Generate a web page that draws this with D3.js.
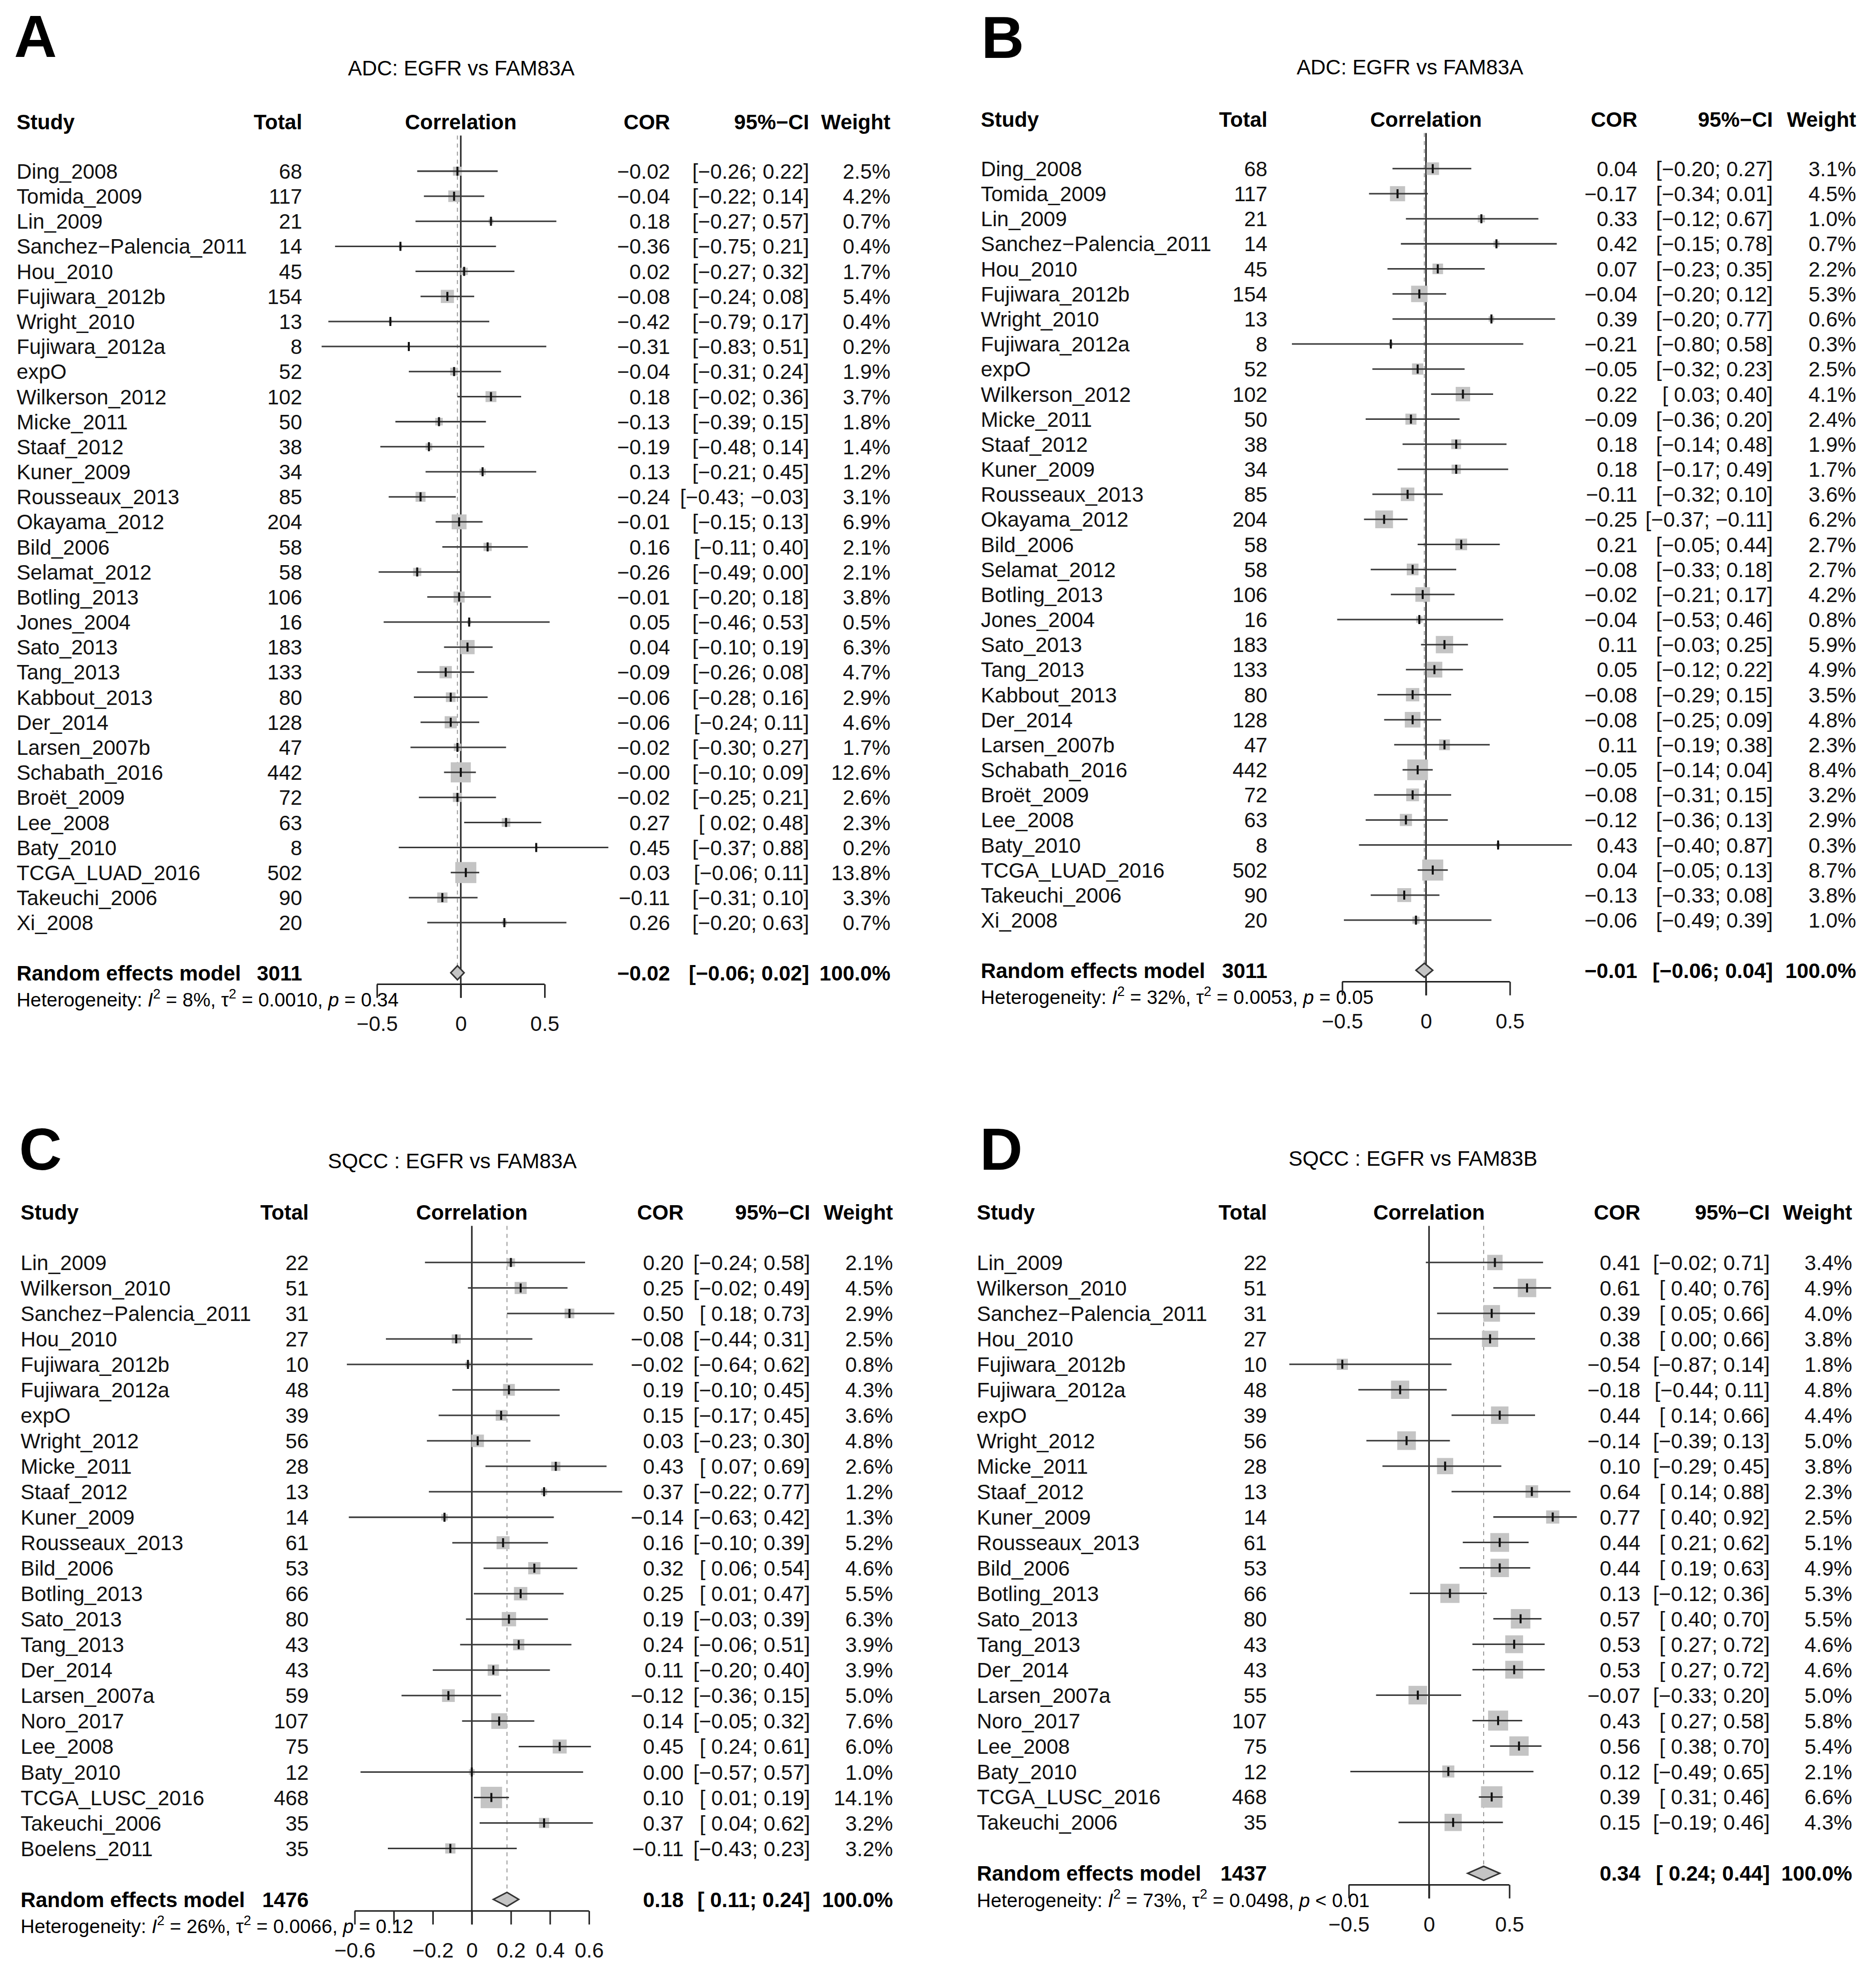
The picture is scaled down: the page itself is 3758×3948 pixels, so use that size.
<!DOCTYPE html>
<html>
<head>
<meta charset="utf-8">
<script src="https://cdn.jsdelivr.net/npm/d3@7"></script>
<style>
  body { margin: 0; background: #fff; }
  svg { display: block; }
</style>
</head>
<body>
<div id="chart"></div>
<script>
// ---- data ----
const studiesA = ["Ding_2008", "Tomida_2009", "Lin_2009", "Sanchez\u2212Palencia_2011", "Hou_2010", "Fujiwara_2012b", "Wright_2010", "Fujiwara_2012a", "expO", "Wilkerson_2012", "Micke_2011", "Staaf_2012", "Kuner_2009", "Rousseaux_2013", "Okayama_2012", "Bild_2006", "Selamat_2012", "Botling_2013", "Jones_2004", "Sato_2013", "Tang_2013", "Kabbout_2013", "Der_2014", "Larsen_2007b", "Schabath_2016", "Broët_2009", "Lee_2008", "Baty_2010", "TCGA_LUAD_2016", "Takeuchi_2006", "Xi_2008"];
const totalA = [68, 117, 21, 14, 45, 154, 13, 8, 52, 102, 50, 38, 34, 85, 204, 58, 58, 106, 16, 183, 133, 80, 128, 47, 442, 72, 63, 8, 502, 90, 20];
const corA = [-0.02, -0.04, 0.18, -0.36, 0.02, -0.08, -0.42, -0.31, -0.04, 0.18, -0.13, -0.19, 0.13, -0.24, -0.01, 0.16, -0.26, -0.01, 0.05, 0.04, -0.09, -0.06, -0.06, -0.02, -0.00, -0.02, 0.27, 0.45, 0.03, -0.11, 0.26];
const lowerA = [-0.26, -0.22, -0.27, -0.75, -0.27, -0.24, -0.79, -0.83, -0.31, -0.02, -0.39, -0.48, -0.21, -0.43, -0.15, -0.11, -0.49, -0.20, -0.46, -0.10, -0.26, -0.28, -0.24, -0.30, -0.10, -0.25, 0.02, -0.37, -0.06, -0.31, -0.20];
const upperA = [0.22, 0.14, 0.57, 0.21, 0.32, 0.08, 0.17, 0.51, 0.24, 0.36, 0.15, 0.14, 0.45, -0.03, 0.13, 0.40, 0.00, 0.18, 0.53, 0.19, 0.08, 0.16, 0.11, 0.27, 0.09, 0.21, 0.48, 0.88, 0.11, 0.10, 0.63];
const weightA = [2.5, 4.2, 0.7, 0.4, 1.7, 5.4, 0.4, 0.2, 1.9, 3.7, 1.8, 1.4, 1.2, 3.1, 6.9, 2.1, 2.1, 3.8, 0.5, 6.3, 4.7, 2.9, 4.6, 1.7, 12.6, 2.6, 2.3, 0.2, 13.8, 3.3, 0.7];

const studiesB = studiesA;
const totalB = totalA;
const corB = [0.04, -0.17, 0.33, 0.42, 0.07, -0.04, 0.39, -0.21, -0.05, 0.22, -0.09, 0.18, 0.18, -0.11, -0.25, 0.21, -0.08, -0.02, -0.04, 0.11, 0.05, -0.08, -0.08, 0.11, -0.05, -0.08, -0.12, 0.43, 0.04, -0.13, -0.06];
const lowerB = [-0.20, -0.34, -0.12, -0.15, -0.23, -0.20, -0.20, -0.80, -0.32, 0.03, -0.36, -0.14, -0.17, -0.32, -0.37, -0.05, -0.33, -0.21, -0.53, -0.03, -0.12, -0.29, -0.25, -0.19, -0.14, -0.31, -0.36, -0.40, -0.05, -0.33, -0.49];
const upperB = [0.27, 0.01, 0.67, 0.78, 0.35, 0.12, 0.77, 0.58, 0.23, 0.40, 0.20, 0.48, 0.49, 0.10, -0.11, 0.44, 0.18, 0.17, 0.46, 0.25, 0.22, 0.15, 0.09, 0.38, 0.04, 0.15, 0.13, 0.87, 0.13, 0.08, 0.39];
const weightB = [3.1, 4.5, 1.0, 0.7, 2.2, 5.3, 0.6, 0.3, 2.5, 4.1, 2.4, 1.9, 1.7, 3.6, 6.2, 2.7, 2.7, 4.2, 0.8, 5.9, 4.9, 3.5, 4.8, 2.3, 8.4, 3.2, 2.9, 0.3, 8.7, 3.8, 1.0];

const studiesC = ["Lin_2009", "Wilkerson_2010", "Sanchez\u2212Palencia_2011", "Hou_2010", "Fujiwara_2012b", "Fujiwara_2012a", "expO", "Wright_2012", "Micke_2011", "Staaf_2012", "Kuner_2009", "Rousseaux_2013", "Bild_2006", "Botling_2013", "Sato_2013", "Tang_2013", "Der_2014", "Larsen_2007a", "Noro_2017", "Lee_2008", "Baty_2010", "TCGA_LUSC_2016", "Takeuchi_2006", "Boelens_2011"];
const totalC = [22, 51, 31, 27, 10, 48, 39, 56, 28, 13, 14, 61, 53, 66, 80, 43, 43, 59, 107, 75, 12, 468, 35, 35];
const corC = [0.20, 0.25, 0.50, -0.08, -0.02, 0.19, 0.15, 0.03, 0.43, 0.37, -0.14, 0.16, 0.32, 0.25, 0.19, 0.24, 0.11, -0.12, 0.14, 0.45, 0.00, 0.10, 0.37, -0.11];
const lowerC = [-0.24, -0.02, 0.18, -0.44, -0.64, -0.10, -0.17, -0.23, 0.07, -0.22, -0.63, -0.10, 0.06, 0.01, -0.03, -0.06, -0.20, -0.36, -0.05, 0.24, -0.57, 0.01, 0.04, -0.43];
const upperC = [0.58, 0.49, 0.73, 0.31, 0.62, 0.45, 0.45, 0.30, 0.69, 0.77, 0.42, 0.39, 0.54, 0.47, 0.39, 0.51, 0.40, 0.15, 0.32, 0.61, 0.57, 0.19, 0.62, 0.23];
const weightC = [2.1, 4.5, 2.9, 2.5, 0.8, 4.3, 3.6, 4.8, 2.6, 1.2, 1.3, 5.2, 4.6, 5.5, 6.3, 3.9, 3.9, 5.0, 7.6, 6.0, 1.0, 14.1, 3.2, 3.2];

const studiesD = ["Lin_2009", "Wilkerson_2010", "Sanchez\u2212Palencia_2011", "Hou_2010", "Fujiwara_2012b", "Fujiwara_2012a", "expO", "Wright_2012", "Micke_2011", "Staaf_2012", "Kuner_2009", "Rousseaux_2013", "Bild_2006", "Botling_2013", "Sato_2013", "Tang_2013", "Der_2014", "Larsen_2007a", "Noro_2017", "Lee_2008", "Baty_2010", "TCGA_LUSC_2016", "Takeuchi_2006"];
const totalD = [22, 51, 31, 27, 10, 48, 39, 56, 28, 13, 14, 61, 53, 66, 80, 43, 43, 55, 107, 75, 12, 468, 35];
const corD = [0.41, 0.61, 0.39, 0.38, -0.54, -0.18, 0.44, -0.14, 0.10, 0.64, 0.77, 0.44, 0.44, 0.13, 0.57, 0.53, 0.53, -0.07, 0.43, 0.56, 0.12, 0.39, 0.15];
const lowerD = [-0.02, 0.40, 0.05, 0.00, -0.87, -0.44, 0.14, -0.39, -0.29, 0.14, 0.40, 0.21, 0.19, -0.12, 0.40, 0.27, 0.27, -0.33, 0.27, 0.38, -0.49, 0.31, -0.19];
const upperD = [0.71, 0.76, 0.66, 0.66, 0.14, 0.11, 0.66, 0.13, 0.45, 0.88, 0.92, 0.62, 0.63, 0.36, 0.70, 0.72, 0.72, 0.20, 0.58, 0.70, 0.65, 0.46, 0.46];
const weightD = [3.4, 4.9, 4.0, 3.8, 1.8, 4.8, 4.4, 5.0, 3.8, 2.3, 2.5, 5.1, 4.9, 5.3, 5.5, 4.6, 4.6, 5.0, 5.8, 5.4, 2.1, 6.6, 4.3];

// random effects summaries: A, B, C, D
const panelLetters = ["A", "B", "C", "D"];
const panelTitles = ["ADC: EGFR vs FAM83A", "ADC: EGFR vs FAM83A", "SQCC : EGFR vs FAM83A", "SQCC : EGFR vs FAM83B"];
const summaryTotal = [3011, 3011, 1476, 1437];
const summaryCor = [-0.02, -0.01, 0.18, 0.34];
const summaryLower = [-0.06, -0.06, 0.11, 0.24];
const summaryUpper = [0.02, 0.04, 0.24, 0.44];
const hetI2 = ["8%", "32%", "26%", "73%"];
const hetTau2 = ["0.0010", "0.0053", "0.0066", "0.0498"];
const hetP = ["= 0.34", "= 0.05", "= 0.12", "< 0.01"];

const ticksAB = [-0.5, 0, 0.5];
const tickLabelsAB = ["\u22120.5", "0", "0.5"];
const ticksC = [-0.6, -0.4, -0.2, 0, 0.2, 0.4, 0.6];
const tickLabelsC = ["\u22120.6", "", "\u22120.2", "0", "0.2", "0.4", "0.6"];

// ---- drawing ----
const W = 3758, H = 3948;
const FONT = "'Liberation Sans', Arial, Helvetica, sans-serif";
const FS = 41.7;
const K = 1.0055; // layout numbers were read at a slightly smaller scale

const svg = d3.select("#chart").append("svg")
  .attr("width", W).attr("height", H)
  .style("font-family", FONT);

svg.append("rect").attr("width", W).attr("height", H).attr("fill", "#fff");
const root = svg.append("g").attr("transform", `scale(${K})`);

function fmt(v) {
  const neg = v < 0 || Object.is(v, -0);
  return (neg ? "\u2212" : "") + Math.abs(v).toFixed(2);
}
function fmtCI(lo, hi) {
  const l = (lo < 0 ? "\u2212" : " ") + Math.abs(lo).toFixed(2);
  return "[" + l + "; " + fmt(hi) + "]";
}

function drawPanel(i, d, L) {
  const g = root.append("g");
  const n = d.study.length;
  const x = d3.scaleLinear().domain([-1, 1]).range([L.zero - L.unit, L.zero + L.unit]);
  const y = d3.scaleLinear().domain([0, n - 1]).range([L.row0, L.row0 + (n - 1) * L.step]);
  const ySum = y(n + 1);
  const base = FS * 0.36;
  const wMax = d3.max(d.weight);
  const sq = w => 0.84 * L.step * Math.sqrt(w / wMax);

  // panel letter and title
  g.append("text").attr("x", L.letterX).attr("y", L.letterY)
    .attr("font-size", 118).attr("font-weight", "bold").text(panelLetters[i]);
  g.append("text").attr("x", L.titleX).attr("y", L.titleY + base)
    .attr("text-anchor", "middle").attr("font-size", FS).text(panelTitles[i]);

  // header
  const hy = L.headerY + base;
  const header = [["Study", L.studyX, "start"], ["Total", L.totalX, "end"],
    ["Correlation", L.zero, "middle"], ["COR", L.corX, "end"],
    ["95%\u2212CI", L.ciX, "end"], ["Weight", L.wX, "end"]];
  g.selectAll(".hdr").data(header).join("text")
    .attr("x", h => h[1]).attr("y", hy).attr("text-anchor", h => h[2])
    .attr("font-size", FS).attr("font-weight", "bold").text(h => h[0]);

  // reference line at 0 and dotted line at summary estimate
  const lineTop = L.headerY + 27;
  g.append("line").attr("x1", x(0)).attr("x2", x(0))
    .attr("y1", lineTop).attr("y2", ySum + 50)
    .attr("stroke", "#222").attr("stroke-width", 3);
  g.append("line").attr("x1", x(summaryCor[i])).attr("x2", x(summaryCor[i]))
    .attr("y1", lineTop).attr("y2", ySum - 14)
    .attr("stroke", "#9a9a9a").attr("stroke-width", 2).attr("stroke-dasharray", "8,8");

  const idx = d3.range(n);
  // squares
  g.selectAll(".sq").data(idx).join("rect")
    .attr("x", k => x(d.cor[k]) - sq(d.weight[k]) / 2)
    .attr("y", k => y(k) - sq(d.weight[k]) / 2)
    .attr("width", k => sq(d.weight[k])).attr("height", k => sq(d.weight[k]))
    .attr("fill", "#c4c4c4");
  // CI lines
  g.selectAll(".ci").data(idx).join("line")
    .attr("x1", k => x(d.lower[k])).attr("x2", k => x(d.upper[k]))
    .attr("y1", k => y(k)).attr("y2", k => y(k))
    .attr("stroke", "#3a3a3a").attr("stroke-width", 3);
  // point estimate marks
  g.selectAll(".pt").data(idx).join("line")
    .attr("x1", k => x(d.cor[k])).attr("x2", k => x(d.cor[k]))
    .attr("y1", k => y(k) - 9).attr("y2", k => y(k) + 9)
    .attr("stroke", "#111").attr("stroke-width", 4);

  // row text
  const cols = [
    [k => d.study[k], L.studyX, "start"],
    [k => d.total[k], L.totalX, "end"],
    [k => fmt(d.cor[k]), L.corX, "end"],
    [k => fmtCI(d.lower[k], d.upper[k]), L.ciX, "end"],
    [k => d.weight[k].toFixed(1) + "%", L.wX, "end"]
  ];
  cols.forEach(c => {
    g.selectAll(null).data(idx).join("text")
      .attr("x", c[1]).attr("y", k => y(k) + base)
      .attr("text-anchor", c[2]).attr("font-size", FS)
      .attr("fill", "#111").style("white-space", "pre")
      .text(c[0]);
  });

  // summary row
  const sy = ySum + base;
  const sumCols = [["Random effects model", L.studyX, "start"],
    [summaryTotal[i], L.totalX, "end"],
    [fmt(summaryCor[i]), L.corX, "end"],
    [fmtCI(summaryLower[i], summaryUpper[i]), L.ciX, "end"],
    ["100.0%", L.wX, "end"]];
  g.selectAll(".sum").data(sumCols).join("text")
    .attr("x", s => s[1]).attr("y", sy).attr("text-anchor", s => s[2])
    .attr("font-size", FS).attr("font-weight", "bold").style("white-space", "pre")
    .text(s => s[0]);

  const dia = [[x(summaryLower[i]), ySum], [x(summaryCor[i]), ySum - 14],
    [x(summaryUpper[i]), ySum], [x(summaryCor[i]), ySum + 14]];
  g.append("path").attr("d", "M" + dia.join("L") + "Z")
    .attr("fill", "#c4c4c4").attr("stroke", "#333").attr("stroke-width", 3);

  // heterogeneity
  const HF = 38.5;
  const het = g.append("text").attr("x", L.studyX).attr("y", ySum + 53 + HF * 0.36)
    .attr("font-size", HF).style("white-space", "pre");
  het.append("tspan").text("Heterogeneity: ");
  het.append("tspan").attr("font-style", "italic").text("I");
  het.append("tspan").attr("font-size", 27).attr("dy", -16).text("2");
  het.append("tspan").attr("dy", 16).text(" = " + hetI2[i] + ", \u03c4");
  het.append("tspan").attr("font-size", 27).attr("dy", -16).text("2");
  het.append("tspan").attr("dy", 16).text(" = " + hetTau2[i] + ", ");
  het.append("tspan").attr("font-style", "italic").text("p");
  het.append("tspan").text(" " + hetP[i]);

  // x axis
  const ax = g.append("g").attr("transform", `translate(0,${ySum + 23})`);
  ax.call(d3.axisBottom(x).tickValues(L.ticks).tickSize(27).tickSizeOuter(0)
    .tickPadding(36).tickFormat((t, j) => L.tickLabels[j]));
  ax.select(".domain").remove();
  ax.append("line").attr("x1", x(L.ticks[0])).attr("x2", x(L.ticks[L.ticks.length - 1]))
    .attr("stroke", "#222").attr("stroke-width", 3);
  ax.selectAll(".tick line").attr("stroke", "#222").attr("stroke-width", 3);
  ax.selectAll(".tick text").attr("font-size", FS).attr("font-family", FONT)
    .attr("fill", "#111");
}

const layouts = [
  { letterX: 28, letterY: 113, titleX: 919, titleY: 135, headerY: 243, studyX: 33, totalX: 602,
    zero: 918, unit: 334, corX: 1335, ciX: 1612, wX: 1774, row0: 341, step: 49.9,
    ticks: ticksAB, tickLabels: tickLabelsAB },
  { letterX: 1955, letterY: 115, titleX: 2809, titleY: 133, headerY: 238, studyX: 1954, totalX: 2525,
    zero: 2841, unit: 334, corX: 3262, ciX: 3532, wX: 3698, row0: 336, step: 49.9,
    ticks: ticksAB, tickLabels: tickLabelsAB },
  { letterX: 38, letterY: 2330, titleX: 901, titleY: 2312, headerY: 2415, studyX: 41, totalX: 615,
    zero: 940, unit: 389, corX: 1362, ciX: 1614, wX: 1779, row0: 2515, step: 50.75,
    ticks: ticksC, tickLabels: tickLabelsC },
  { letterX: 1952, letterY: 2330, titleX: 2815, titleY: 2307, headerY: 2415, studyX: 1946, totalX: 2524,
    zero: 2847, unit: 320, corX: 3268, ciX: 3526, wX: 3690, row0: 2515, step: 50.7,
    ticks: ticksAB, tickLabels: tickLabelsAB }
];

const panelData = [
  { study: studiesA, total: totalA, cor: corA, lower: lowerA, upper: upperA, weight: weightA },
  { study: studiesB, total: totalB, cor: corB, lower: lowerB, upper: upperB, weight: weightB },
  { study: studiesC, total: totalC, cor: corC, lower: lowerC, upper: upperC, weight: weightC },
  { study: studiesD, total: totalD, cor: corD, lower: lowerD, upper: upperD, weight: weightD }
];

panelData.forEach((d, i) => drawPanel(i, d, layouts[i]));
</script>
</body>
</html>
